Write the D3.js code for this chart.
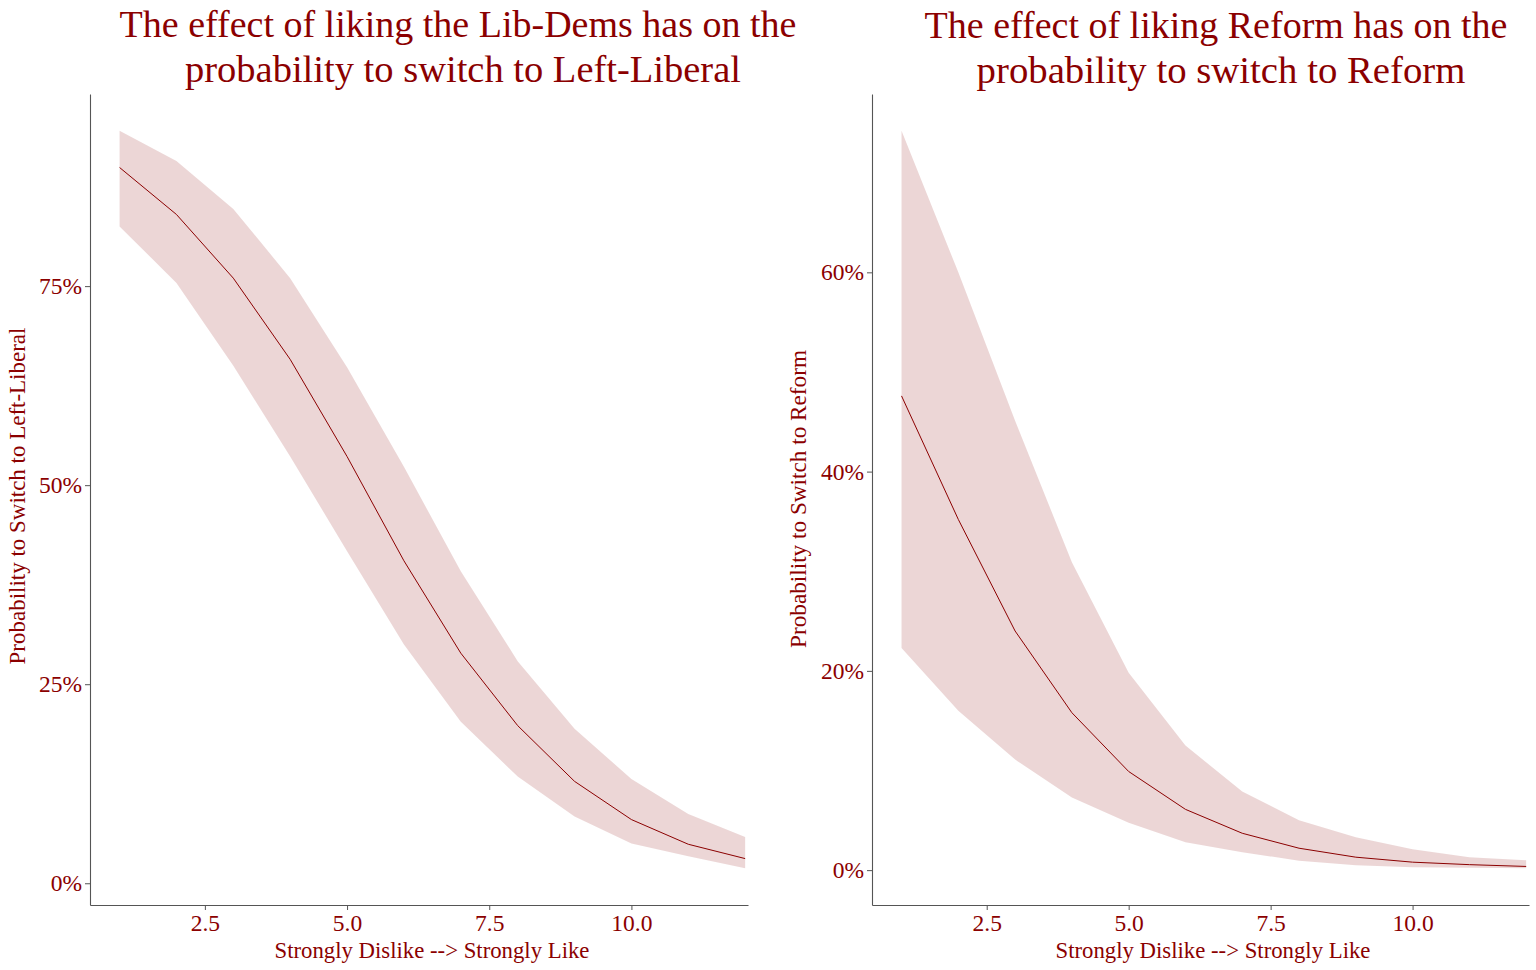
<!DOCTYPE html>
<html><head><meta charset="utf-8">
<script src="https://cdn.jsdelivr.net/npm/d3@7"></script>
<style>body{margin:0;background:#fff} svg{display:block}</style>
</head><body><svg id="c" width="1536" height="970"></svg>
<script>
// ---- data ----
const liking = [1,2,3,4,5,6,7,8,9,10,11,12];
const libdemFit   = [0.899,0.840,0.760,0.658,0.536,0.405,0.289,0.198,0.128,0.080,0.049,0.031];
const libdemLower = [0.825,0.754,0.650,0.536,0.417,0.300,0.203,0.134,0.084,0.050,0.034,0.019];
const libdemUpper = [0.945,0.907,0.847,0.760,0.648,0.523,0.392,0.279,0.194,0.131,0.087,0.058];
const reformFit   = [0.476,0.352,0.240,0.158,0.099,0.061,0.037,0.022,0.013,0.008,0.0055,0.0037];
const reformLower = [0.223,0.160,0.111,0.073,0.0475,0.028,0.018,0.0095,0.005,0.003,0.0025,0.002];
const reformUpper = [0.742,0.600,0.451,0.309,0.198,0.125,0.079,0.050,0.033,0.021,0.013,0.010];
const libdemTicks = [0,0.25,0.5,0.75];
const reformTicks = [0,0.2,0.4,0.6];
const xTicks = [2.5,5.0,7.5,10.0];
const libdemTitle = ["The effect of liking the Lib-Dems has on the","probability to switch to Left-Liberal"];
const reformTitle = ["The effect of liking Reform has on the","probability to switch to Reform"];
const libdemYLabel = "Probability to Switch to Left-Liberal";
const reformYLabel = "Probability to Switch to Reform";
const xLabel = "Strongly Dislike --> Strongly Like";

// ---- drawing ----
const svg = d3.select("#c");
const RED = "#8B0000";
const FONT = "'Liberation Serif', 'Times New Roman', serif";
const AXIS = "#555";

function fit(sel, targetW){
  const n = sel.node();
  const w = n.getComputedTextLength();
  const fs = parseFloat(sel.attr("font-size"));
  sel.attr("font-size", (fs*targetW/w).toFixed(2));
}

function panel(cfg){
  const g = svg.append("g");
  const lo = d3.min(cfg.lower), hi = d3.max(cfg.upper), pad = (hi-lo)*0.05;
  const x = d3.scaleLinear().domain([0.48,12.05]).range(cfg.xr);
  const y = d3.scaleLinear().domain([lo-pad, hi+pad]).range([905,94]);
  const rows = liking.map((v,i)=>({x:v, f:cfg.fit[i], l:cfg.lower[i], u:cfg.upper[i]}));

  g.append("path").datum(rows)
    .attr("d", d3.area().x(d=>x(d.x)).y0(d=>y(d.l)).y1(d=>y(d.u)))
    .attr("fill", RED).attr("fill-opacity", 0.16);
  g.append("path").datum(rows)
    .attr("d", d3.line().x(d=>x(d.x)).y(d=>y(d.f)))
    .attr("fill","none").attr("stroke", RED).attr("stroke-width", 1);

  // x axis
  const xa = g.append("g").attr("transform","translate(0,905)")
    .call(d3.axisBottom(x).tickValues(xTicks).tickFormat(d3.format(".1f")).tickSize(5).tickSizeOuter(0).tickPadding(4));
  xa.select(".domain").attr("stroke", AXIS).attr("stroke-width",1.1);
  xa.selectAll(".tick line").attr("stroke", AXIS);
  xa.selectAll(".tick text").attr("fill", RED).attr("font-family", FONT).attr("font-size", 23.5);

  // y axis
  const ya = g.append("g").attr("transform",`translate(${cfg.xr[0]},0)`)
    .call(d3.axisLeft(y).tickValues(cfg.ticks).tickFormat(d3.format(".0%")).tickSize(5).tickSizeOuter(0).tickPadding(3));
  ya.select(".domain").attr("stroke", AXIS).attr("stroke-width",1.1);
  ya.selectAll(".tick line").attr("stroke", AXIS);
  ya.selectAll(".tick text").attr("fill", RED).attr("font-family", FONT).attr("font-size", 23.5);

  // titles
  cfg.title.forEach((t,i)=>{
    const tt = g.append("text").attr("x", cfg.titleX[i]).attr("y", cfg.titleY[i])
      .attr("text-anchor","middle").attr("fill", RED).attr("font-family", FONT)
      .attr("font-size", 36).text(t);
    fit(tt, cfg.titleW[i]);
  });

  // x label
  const xl = g.append("text").attr("x", cfg.xLabX).attr("y", 958)
    .attr("text-anchor","middle").attr("fill", RED).attr("font-family", FONT)
    .attr("font-size", 20).text(xLabel);
  fit(xl, 315);

  // y label
  const yl = g.append("text")
    .attr("transform", `translate(${cfg.yLabX},${cfg.yLabY}) rotate(-90)`)
    .attr("text-anchor","middle").attr("fill", RED).attr("font-family", FONT)
    .attr("font-size", 20).text(cfg.yLabel);
  fit(yl, cfg.yLabW);
}

panel({xr:[90,748], fit:libdemFit, lower:libdemLower, upper:libdemUpper, ticks:libdemTicks,
  title:libdemTitle, titleX:[458,463], titleY:[37,82], titleW:[677,556],
  xLabX:432, yLabX:25, yLabY:496, yLabW:337, yLabel:libdemYLabel});
panel({xr:[872,1529], fit:reformFit, lower:reformLower, upper:reformUpper, ticks:reformTicks,
  title:reformTitle, titleX:[1216,1221], titleY:[38,83], titleW:[583,489],
  xLabX:1213, yLabX:806, yLabY:499, yLabW:298, yLabel:reformYLabel});
</script></body></html>
